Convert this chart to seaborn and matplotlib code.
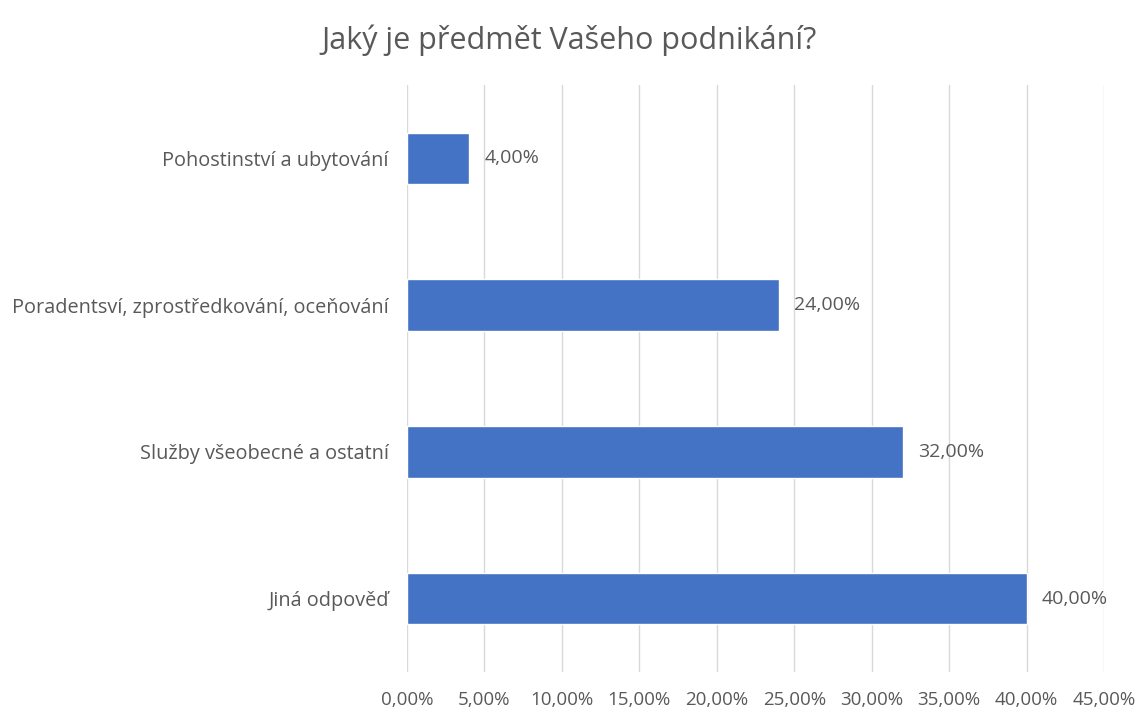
import matplotlib
matplotlib.use("Agg")
import matplotlib.pyplot as plt
import seaborn as sns
import pandas as pd
from matplotlib.ticker import FuncFormatter

categories = [
    "Pohostinství a ubytování",
    "Poradentsví, zprostředkování, oceňování",
    "Služby všeobecné a ostatní",
    "Jiná odpověď",
]
shares = [4.0, 24.0, 32.0, 40.0]
x_ticks = [0, 5, 10, 15, 20, 25, 30, 35, 40, 45]
title = "Jaký je předmět Vašeho podnikání?"

sns.set_theme(style="white")
plt.rcParams["font.family"] = ["Open Sans", "DejaVu Sans"]

text_color = "#595959"
bar_color = "#4472C4"


def pct(v):
    return f"{v:.2f}%".replace(".", ",")


df = pd.DataFrame({"kategorie": categories, "podil": shares})

fig = plt.figure(figsize=(11.39, 7.11), dpi=100)
ax = fig.add_axes([0.3573, 0.0549, 0.612, 0.8256])

sns.barplot(data=df, x="podil", y="kategorie", color=bar_color, width=0.35,
            saturation=1, ax=ax, order=categories)

ax.set_xlim(0, 45)
ax.set_ylim(3.5, -0.5)
ax.set_xticks(x_ticks)
ax.xaxis.set_major_formatter(FuncFormatter(lambda v, p: pct(v)))
ax.grid(axis="x", color="#d9d9d9", linewidth=1)
ax.set_axisbelow(True)
for s in ax.spines.values():
    s.set_visible(False)
ax.set_xlabel("")
ax.set_ylabel("")
ax.tick_params(axis="x", colors=text_color, labelsize=13.5, length=0, pad=14)
ax.tick_params(axis="y", colors=text_color, labelsize=14.3, length=0, pad=13)

for i, v in enumerate(shares):
    ax.text(v + 1.0, i, pct(v), va="center", ha="left",
            fontsize=14, color=text_color)

fig.text(0.5, 0.944, title, ha="center", va="center", fontsize=22, color=text_color)

fig.savefig("out.png", dpi=100)
